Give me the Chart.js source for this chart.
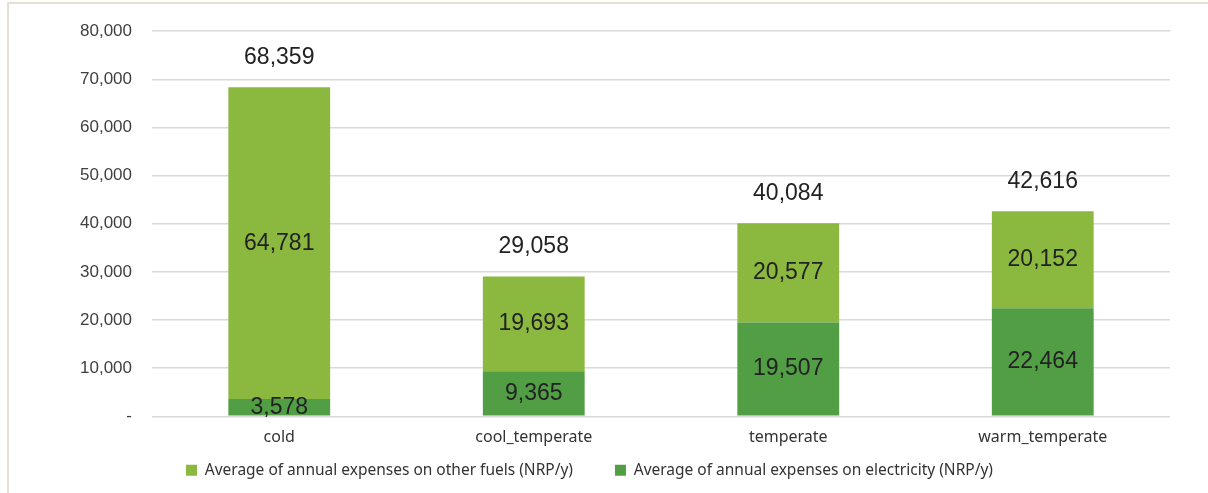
<!DOCTYPE html>
<html>
<head>
    <title>Annual expenses by climate zone</title>
    <script src="https://cdn.jsdelivr.net/npm/chart.js"></script>
    <style>
        html, body { margin: 0; padding: 0; background: #fff; overflow: hidden; }
        .frame {
            position: absolute; left: 7px; top: 2px;
            width: 1220px; height: 500px;
            border: 2px solid #e6e0d2;
            overflow: hidden;
        }
        #expenseChart { display: block; margin-top: -3px; }
    </style>
</head>
<body>
    <div class="frame">
        <canvas id="expenseChart" width="1199" height="492"></canvas>
    </div>
    <script>
        // data
        const zones = ['cold', 'cool_temperate', 'temperate', 'warm_temperate'];
        const electricity = [3578, 9365, 19507, 22464];
        const otherFuels = [64781, 19693, 20577, 20152];
        const totals = [68359, 29058, 40084, 42616];
        const yTicks = [0, 10000, 20000, 30000, 40000, 50000, 60000, 70000, 80000];

        const numFont = '"Liberation Sans", Arial, sans-serif';
        const textFont = '"Noto Sans", sans-serif';
        const fmt = v => v.toLocaleString('en-US');

        // draws the segment values and the stack totals
        const labelPlugin = {
            id: 'barLabels',
            afterDatasetsDraw(chart) {
                const ctx = chart.ctx;
                const y = chart.scales.y;
                ctx.save();
                ctx.fillStyle = '#222';
                ctx.font = '23px ' + numFont;
                ctx.textAlign = 'center';
                ctx.textBaseline = 'middle';
                chart.data.datasets.forEach((ds, i) => {
                    chart.getDatasetMeta(i).data.forEach((bar, j) => {
                        const mid = (bar.y + bar.base) / 2;
                        ctx.fillText(fmt(ds.data[j]), bar.x, mid);
                    });
                });
                chart.getDatasetMeta(0).data.forEach((bar, j) => {
                    ctx.fillText(fmt(totals[j]), bar.x, y.getPixelForValue(totals[j]) - 30);
                });
                ctx.restore();
            }
        };

        new Chart(document.getElementById('expenseChart'), {
            type: 'bar',
            data: {
                labels: zones,
                datasets: [{
                    label: 'Average of annual expenses on electricity (NRP/y)',
                    data: electricity,
                    backgroundColor: '#519e45'
                }, {
                    label: 'Average of annual expenses on other fuels (NRP/y)',
                    data: otherFuels,
                    backgroundColor: '#8bb83f'
                }]
            },
            options: {
                responsive: false,
                animation: false,
                layout: { padding: { left: 0, right: 38, top: 15, bottom: 5 } },
                datasets: { bar: { categoryPercentage: 1, barPercentage: 0.4 } },
                plugins: {
                    tooltip: { enabled: false },
                    legend: {
                        position: 'bottom',
                        reverse: true,
                        labels: {
                            boxWidth: 11, boxHeight: 11,
                            padding: 11,
                            color: '#333',
                            font: { family: textFont, size: 15.5 },
                            // wider gap between the two legend entries
                            generateLabels: chart => {
                                const items = Chart.defaults.plugins.legend.labels.generateLabels(chart);
                                items.forEach(it => {
                                    if (it.datasetIndex === 1) it.text += '\u2003\u2003';
                                });
                                return items;
                            }
                        }
                    }
                },
                scales: {
                    x: {
                        stacked: true,
                        grid: { display: false },
                        border: { display: false },
                        ticks: { color: '#333', padding: 4, font: { family: textFont, size: 16 } }
                    },
                    y: {
                        stacked: true,
                        min: 0, max: 80000,
                        afterBuildTicks: axis => { axis.ticks = yTicks.map(v => ({ value: v })); },
                        afterFit: axis => { axis.width = 143; },
                        grid: { color: '#d9d9d9', lineWidth: 1.5, drawTicks: false },
                        border: { display: false },
                        ticks: {
                            color: '#404040',
                            padding: 20,
                            font: { family: numFont, size: 17 },
                            callback: v => v === 0 ? '-' : fmt(v)
                        }
                    }
                }
            },
            plugins: [labelPlugin]
        });
    </script>
</body>
</html>
